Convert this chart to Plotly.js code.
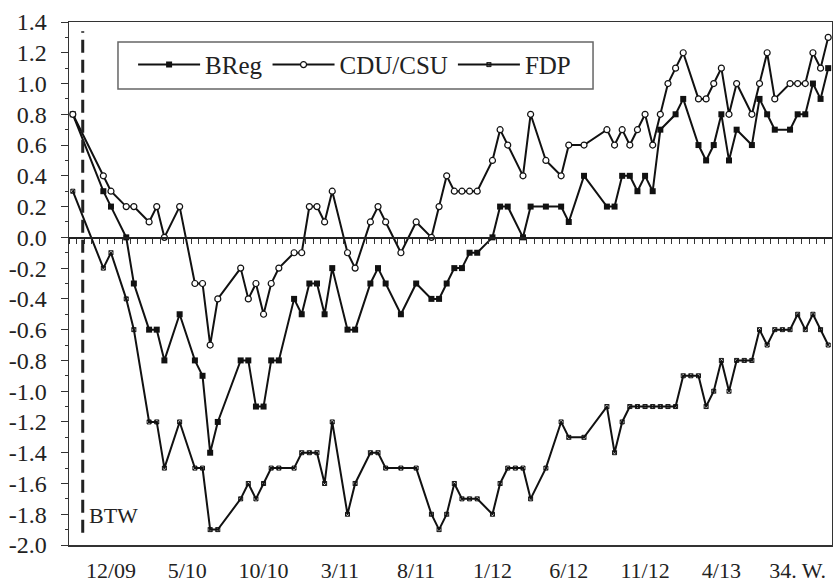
<!DOCTYPE html>
<html>
<head>
<meta charset="utf-8">
<script src="https://cdn.plot.ly/plotly-3.0.1.min.js"></script>
<style>html,body{margin:0;padding:0;background:#fff;}#chart{width:833px;height:583px;}</style>
</head>
<body>
<div id="chart"></div>
<script>
// Period index (half-month steps) of each poll
const bregX = [0,4,5,7,8,10,11,12,14,16,17,18,19,22,23,24,25,26,27,29,30,31,32,33,34,36,37,39,40,41,43,45,47,48,49,50,51,52,53,55,56,57,59,60,62,64,65,67,70,71,72,73,74,75,76,77,79,80,82,83,84,85,86,87,89,90,91,92,94,95,96,97,98,99];
const bregY = [0.8,0.3,0.2,0.0,-0.3,-0.6,-0.6,-0.8,-0.5,-0.8,-0.9,-1.4,-1.2,-0.8,-0.8,-1.1,-1.1,-0.8,-0.8,-0.4,-0.5,-0.3,-0.3,-0.5,-0.2,-0.6,-0.6,-0.3,-0.2,-0.3,-0.5,-0.3,-0.4,-0.4,-0.3,-0.2,-0.2,-0.1,-0.1,0.0,0.2,0.2,0.0,0.2,0.2,0.2,0.1,0.4,0.2,0.2,0.4,0.4,0.3,0.4,0.3,0.7,0.8,0.9,0.6,0.5,0.6,0.8,0.5,0.7,0.6,0.9,0.8,0.7,0.7,0.8,0.8,1.0,0.9,1.1];

const cduX = [0,4,5,7,8,10,11,12,14,16,17,18,19,22,23,24,25,26,27,29,30,31,32,33,34,36,37,39,40,41,43,45,47,48,49,50,51,52,53,55,56,57,59,60,62,64,65,67,70,71,72,73,74,75,76,77,78,79,80,82,83,84,85,86,87,89,90,91,92,94,95,96,97,98,99];
const cduY = [0.8,0.4,0.3,0.2,0.2,0.1,0.2,0.0,0.2,-0.3,-0.3,-0.7,-0.4,-0.2,-0.4,-0.3,-0.5,-0.3,-0.2,-0.1,-0.1,0.2,0.2,0.1,0.3,-0.1,-0.2,0.1,0.2,0.1,-0.1,0.1,0.0,0.2,0.4,0.3,0.3,0.3,0.3,0.5,0.7,0.6,0.4,0.8,0.5,0.4,0.6,0.6,0.7,0.6,0.7,0.6,0.7,0.8,0.6,0.8,1.0,1.1,1.2,0.9,0.9,1.0,1.1,0.8,1.0,0.8,1.0,1.2,0.9,1.0,1.0,1.0,1.2,1.1,1.3];

const fdpX = [0,4,5,7,8,10,11,12,14,16,17,18,19,22,23,24,25,26,27,29,30,31,32,33,34,36,37,39,40,41,43,45,47,48,49,50,51,52,53,55,56,57,58,59,60,62,64,65,67,70,71,72,73,74,75,76,77,78,79,80,81,82,83,84,85,86,87,88,89,90,91,92,93,94,95,96,97,98,99];
const fdpY = [0.3,-0.2,-0.1,-0.4,-0.6,-1.2,-1.2,-1.5,-1.2,-1.5,-1.5,-1.9,-1.9,-1.7,-1.6,-1.7,-1.6,-1.5,-1.5,-1.5,-1.4,-1.4,-1.4,-1.6,-1.2,-1.8,-1.6,-1.4,-1.4,-1.5,-1.5,-1.5,-1.8,-1.9,-1.8,-1.6,-1.7,-1.7,-1.7,-1.8,-1.6,-1.5,-1.5,-1.5,-1.7,-1.5,-1.2,-1.3,-1.3,-1.1,-1.4,-1.2,-1.1,-1.1,-1.1,-1.1,-1.1,-1.1,-1.1,-0.9,-0.9,-0.9,-1.1,-1.0,-0.8,-1.0,-0.8,-0.8,-0.8,-0.6,-0.7,-0.6,-0.6,-0.6,-0.5,-0.6,-0.5,-0.6,-0.7];

const seriesNames = ['BReg','CDU/CSU','FDP'];
const xTickPos = [5,15,25,35,45,55,65,75,85,95];
const xTickLabels = ['12/09','5/10','10/10','3/11','8/11','1/12','6/12','11/12','4/13','34. W.'];
const yTickVals = [1.4,1.2,1.0,0.8,0.6,0.4,0.2,0.0,-0.2,-0.4,-0.6,-0.8,-1.0,-1.2,-1.4,-1.6,-1.8,-2.0];
const yTickLabels = ['1.4','1.2','1.0','0.8','0.6','0.4','0.2','0.0','-0.2','-0.4','-0.6','-0.8','-1.0','-1.2','-1.4','-1.6','-1.8','-2.0'];
const electionX = 1.3;
const electionLabel = 'BTW';

const serif = 'Liberation Serif, Times New Roman, serif';
const lineStyle = {color:'#111', width:2};

const traces = [
  {x:bregX, y:bregY, name:seriesNames[0], type:'scatter', mode:'lines+markers',
   line:lineStyle, marker:{symbol:'square', size:6, color:'#111'}},
  {x:cduX, y:cduY, name:seriesNames[1], type:'scatter', mode:'lines+markers',
   line:lineStyle, marker:{symbol:'circle', size:6, color:'#fff', line:{color:'#111', width:1.2}}},
  {x:fdpX, y:fdpY, name:seriesNames[2], type:'scatter', mode:'lines+markers',
   line:lineStyle, marker:{symbol:'square-x-open', size:4, color:'#111', line:{width:1}}},
  // invisible trace carrying the zero-line axis with its ticks
  {x:[-0.5,99.5], y:[0,0], xaxis:'x2', yaxis:'y', type:'scatter', mode:'lines',
   line:{width:0}, showlegend:false, hoverinfo:'skip'}
];

const layout = {
  width:833, height:583,
  margin:{l:69, r:1, t:22, b:38},
  paper_bgcolor:'#fff', plot_bgcolor:'#fff',
  showlegend:true,
  font:{family:serif, color:'#222'},
  xaxis:{range:[-0.5,99.5], tickmode:'array', tickvals:xTickPos, ticktext:xTickLabels,
         ticks:'', showgrid:false, zeroline:false, showline:true, mirror:true,
         linecolor:'#333', linewidth:1.5, tickfont:{family:serif, size:22, color:'#222'},
         ticklabelstandoff:5},
  xaxis2:{range:[-0.5,99.5], overlaying:'x', anchor:'free', position:2/3.4, side:'bottom',
          tickmode:'linear', tick0:0.5, dtick:1, ticks:'outside', ticklen:5, tickwidth:1,
          tickcolor:'#333', showticklabels:false, showgrid:false, zeroline:false,
          showline:true, linecolor:'#222', linewidth:1.5},
  yaxis:{range:[-2.0,1.4], tickmode:'array', tickvals:yTickVals, ticktext:yTickLabels,
         ticks:'outside', ticklen:7, tickwidth:1, tickcolor:'#333',
         minor:{tickmode:'linear', tick0:-2.0, dtick:0.1, ticks:'outside', ticklen:3, tickcolor:'#333'},
         showgrid:false, zeroline:false, showline:true, mirror:true,
         linecolor:'#333', linewidth:1.5, tickfont:{family:serif, size:24, color:'#222'},
         ticklabelstandoff:9},
  legend:{orientation:'h', x:0.084, y:0.962, xanchor:'left', yanchor:'top',
          bgcolor:'rgba(0,0,0,0)', borderwidth:0,
          font:{family:serif, size:25, color:'#222'}, itemwidth:62},
  shapes:[
    {type:'rect', xref:'paper', yref:'paper', x0:0.0642, x1:0.6868, y0:0.8719, y1:0.9618,
     fillcolor:'#fff', line:{color:'#666', width:1.5}, layer:'below'},
    {type:'line', xref:'x', yref:'y', x0:electionX, x1:electionX, y0:-1.92, y1:1.34,
     line:{color:'#222', width:3, dash:'13px,7px'}}
  ],
  annotations:[
    {xref:'x', yref:'y', x:1.8, y:-1.805, xanchor:'left', yanchor:'middle', showarrow:false,
     text:electionLabel, font:{family:serif, size:22, color:'#222'}}
  ]
};

Plotly.newPlot('chart', traces, layout, {staticPlot:true, displayModeBar:false});
</script>
</body>
</html>
